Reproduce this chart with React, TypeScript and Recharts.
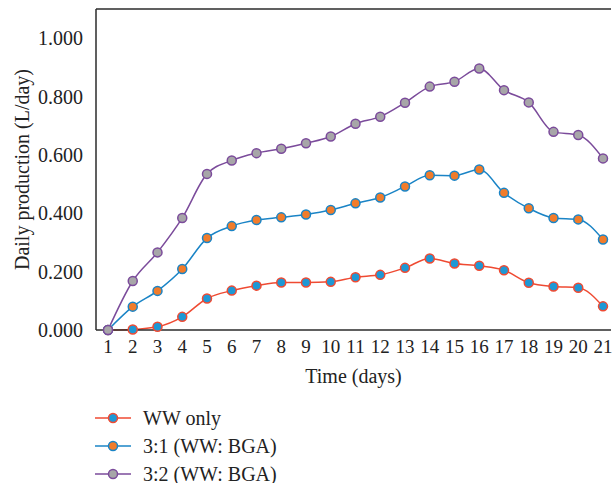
import React from 'react'
import { LineChart, Line, XAxis, YAxis, ReferenceLine } from 'recharts'

const days = [1, 2, 3, 4, 5, 6, 7, 8, 9, 10, 11, 12, 13, 14, 15, 16, 17, 18, 19, 20, 21]

const wwOnly = [0, 0.002, 0.011, 0.045, 0.108, 0.135, 0.152, 0.163, 0.163, 0.165, 0.181, 0.189, 0.213, 0.245, 0.228, 0.22, 0.205, 0.162, 0.149, 0.145, 0.081]
const ratio31 = [0, 0.08, 0.134, 0.209, 0.315, 0.356, 0.377, 0.386, 0.396, 0.411, 0.434, 0.454, 0.492, 0.53, 0.529, 0.55, 0.47, 0.417, 0.384, 0.379, 0.31]
const ratio32 = [0, 0.168, 0.266, 0.384, 0.535, 0.581, 0.606, 0.621, 0.64, 0.663, 0.707, 0.731, 0.779, 0.834, 0.851, 0.896, 0.822, 0.78, 0.679, 0.668, 0.588]

const yTicks = [0, 0.2, 0.4, 0.6, 0.8, 1.0]

const series = [
  { key: 'wwOnly', name: 'WW only', line: '#ef4a32', fill: '#1e98d5' },
  { key: 'ratio31', name: '3:1 (WW: BGA)', line: '#1a84c6', fill: '#f17c2b' },
  { key: 'ratio32', name: '3:2 (WW: BGA)', line: '#7b4b9b', fill: '#a7a6a8' },
]

const data = days.map((d, i) => ({
  day: d,
  wwOnly: wwOnly[i],
  ratio31: ratio31[i],
  ratio32: ratio32[i],
}))

const font = '"Liberation Serif", "DejaVu Serif", serif'
const axisColor = '#2b2b2b'
const fs = 20

export default function App() {
  return (
    <div style={{ position: 'absolute', left: 0, top: 0, width: 613, height: 483, background: '#fff', fontFamily: font }}>
      <LineChart
        width={613}
        height={483}
        data={data}
        margin={{ top: 9, right: 2, left: 0, bottom: 93 }}
      >
        <XAxis
          dataKey="day"
          type="number"
          domain={[1, 21]}
          ticks={days}
          interval={0}
          padding={{ left: 12, right: 8 }}
          stroke={axisColor}
          strokeWidth={1.5}
          tickLine={false}
          tickSize={0}
          tickMargin={10}
          height={60}
          tick={{ fill: '#222', fontSize: 19, fontFamily: font }}
          label={{ value: 'Time (days)', position: 'insideBottom', offset: 7, fill: '#222', fontSize: fs, fontFamily: font }}
        />
        <YAxis
          domain={[0, 1.1]}
          ticks={yTicks}
          width={96}
          stroke={axisColor}
          strokeWidth={1.5}
          tickLine={false}
          tickSize={0}
          tickMargin={13}
          tickFormatter={(v: number) => v.toFixed(3)}
          tick={{ fill: '#222', fontSize: fs, fontFamily: font }}
          label={{ value: 'Daily production (L/day)', angle: -90, position: 'center', dx: -26, fill: '#222', fontSize: fs, fontFamily: font }}
        />
        <ReferenceLine y={1.1} stroke={axisColor} strokeWidth={1.5} />
        {series.map((s) => (
          <Line
            key={s.key}
            dataKey={s.key}
            name={s.name}
            type="monotone"
            stroke={s.line}
            strokeWidth={1.5}
            dot={{ r: 4.5, fill: s.fill, stroke: s.line, strokeWidth: 1.5 }}
            isAnimationActive={false}
          />
        ))}
      </LineChart>
      {series.map((s, i) => (
        <div
          key={s.key}
          style={{ position: 'absolute', left: 95, top: 404 + i * 28, height: 28, display: 'flex', alignItems: 'center', fontSize: fs, color: '#222' }}
        >
          <svg width={36} height={14} style={{ marginRight: 12 }}>
            <line x1={0} y1={7} x2={36} y2={7} stroke={s.line} strokeWidth={1.5} />
            <circle cx={18} cy={7} r={4.5} fill={s.fill} stroke={s.line} strokeWidth={1.5} />
          </svg>
          <span>{s.name}</span>
        </div>
      ))}
    </div>
  )
}
